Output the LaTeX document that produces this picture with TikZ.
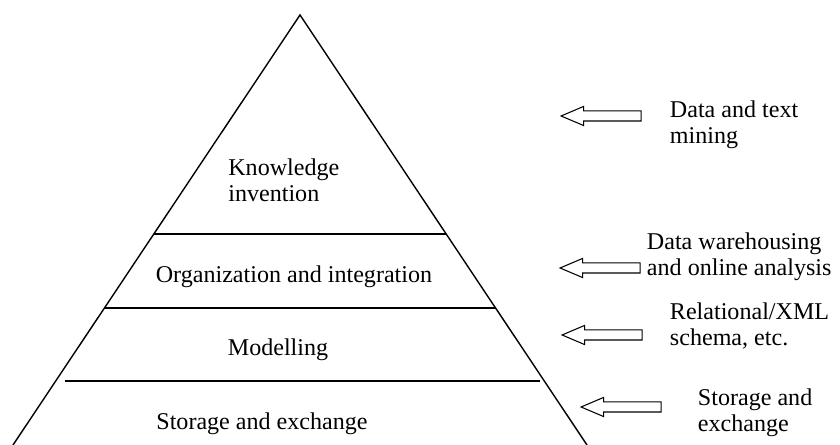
\documentclass[tikz,border=0pt]{standalone}
\usepackage{fontspec}
\setmainfont{Liberation Serif}
\usetikzlibrary{positioning,calc,shapes.arrows}

\begin{document}
\begin{tikzpicture}[
    layer/.style={font=\fontsize{13.7pt}{15pt}\selectfont, inner sep=0pt},
    tool/.style={font=\fontsize{13.7pt}{14.8pt}\selectfont, inner sep=0pt, align=left, anchor=west},
    hollow/.style={single arrow, draw, line width=0.6pt, shape border rotate=180,
        minimum height=1.6cm, inner xsep=0pt, inner ysep=0.09cm,
        single arrow head extend=0.09cm, single arrow tip angle=46},
]
\useasboundingbox (0,0) rectangle (16.8,8.9);

% Pyramid outline
\coordinate (apex) at (6.0,8.6);
\coordinate (bl) at (0.26,0);
\coordinate (br) at (11.74,0);
\draw[line width=0.8pt] (bl) -- (apex) -- (br);

% Layer boundaries
\draw[line width=0.8pt] ($(bl)!0.4907!(apex)$) -- ($(br)!0.4907!(apex)$);
\draw[line width=0.8pt] ($(bl)!0.3186!(apex)$) -- ($(br)!0.3186!(apex)$);
\draw[line width=0.8pt] ($(bl)!0.1488!(apex)+(0.18,0)$) -- ($(br)!0.1488!(apex)+(-0.08,0)$);

% Layer names
\node[layer, align=left, anchor=west] (know) at (4.56,5.3) {Knowledge\\invention};
\node[layer] (org) at (5.88,3.36) {Organization and integration};
\node[layer] (model) at (5.56,1.9) {Modelling};
\node[layer] (store) at (5.24,0.42) {Storage and exchange};

% Arrows on the right
\node[hollow] (a1) at (12.14,6.58) {};
\node[hollow] (a2) at (12.12,3.54) {};
\node[hollow] (a3) at (12.16,2.2) {};
\node[hollow] (a4) at (12.54,0.76) {};

% Technologies
\node[tool, right=0.56cm of a1, yshift=-0.18cm] (t1) {Data and text\\mining};
\node[tool, right=0.12cm of a2, yshift=0.22cm] (t2) {Data warehousing\\and online analysis};
\node[tool, right=0.54cm of a3, yshift=0.18cm] (t3) {Relational/XML\\schema, etc.};
\node[tool, right=0.72cm of a4, yshift=-0.12cm] (t4) {Storage and\\exchange};

\end{tikzpicture}
\end{document}
